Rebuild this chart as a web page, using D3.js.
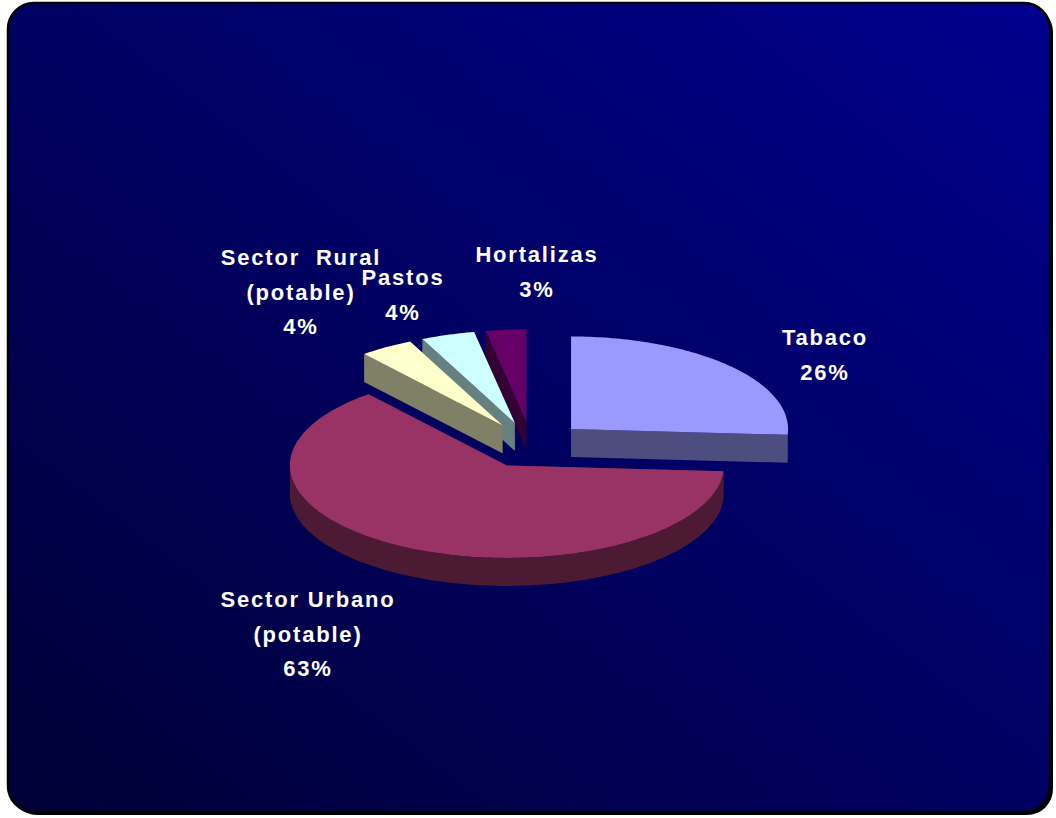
<!DOCTYPE html>
<html>
<head>
<meta charset="utf-8">
<script src="https://cdn.jsdelivr.net/npm/d3@7"></script>
<style>
  html, body { margin: 0; padding: 0; background: #ffffff; }
  svg { display: block; }
  text { font-family: "Liberation Sans", Arial, sans-serif; font-weight: bold; white-space: pre; }
</style>
</head>
<body>
<svg id="chart" width="1056" height="818"></svg>
<script>
// Water use by sector (share of total)
const categories = ["Tabaco", "Sector Urbano\n(potable)", "Sector  Rural\n(potable)", "Pastos", "Hortalizas"];
const values = [26, 63, 4, 4, 3];
const topColors = ["#9999ff", "#993366", "#ffffcc", "#ccffff", "#660066"];
// label anchor (centre of first line's baseline) for each slice
const labelAnchors = [[825, 345], [308, 607], [301, 265], [403, 285], [537, 262]];

const W = 1056, H = 818;
const svg = d3.select("#chart");
const defs = svg.append("defs");

// panel background
const grad = defs.append("linearGradient").attr("id", "bg")
  .attr("x1", "100%").attr("y1", "0%").attr("x2", "0%").attr("y2", "100%");
grad.append("stop").attr("offset", "0%").attr("stop-color", "#00008e");
grad.append("stop").attr("offset", "100%").attr("stop-color", "#000036");

svg.append("rect").attr("x", 11).attr("y", 6).attr("width", 1042).attr("height", 809)
  .attr("rx", 26).attr("fill", "#000");
svg.append("rect").attr("x", 8).attr("y", 3).attr("width", 1042).attr("height", 809)
  .attr("rx", 26).attr("fill", "url(#bg)").attr("stroke", "#000").attr("stroke-width", 2.5);

// 3D pie geometry
const cx = 531.5, cy = 444.8;   // un-exploded centre
const rx = 217, ry = 92.5;      // projected ellipse radii
const depth = 28;               // slab thickness
const explode = 0.25;           // explosion as fraction of radius

const pie = d3.pie().sort(null).startAngle(0).endAngle(2 * Math.PI);
const arcs = pie(values);
const total = d3.sum(values);
const pct = d3.format(".0%");

const shade = c => { const k = d3.rgb(c); return d3.rgb(k.r * 0.5, k.g * 0.5, k.b * 0.5).toString(); };

function proj(ox, oy, r, a) {
  return [ox + rx * r * Math.sin(a), oy - ry * r * Math.cos(a)];
}
function arcPoints(ox, oy, a0, a1, dy) {
  const n = Math.max(2, Math.ceil(Math.abs(a1 - a0) / (Math.PI / 180)));
  return d3.range(n + 1).map(i => {
    const p = proj(ox, oy, 1, a0 + (a1 - a0) * i / n);
    return [p[0], p[1] + (dy || 0)];
  });
}
const line = d3.line();

const slices = arcs.map((d, i) => {
  const mid = (d.startAngle + d.endAngle) / 2;
  const [ax, ay] = proj(cx, cy, explode, mid);
  return { d, i, ax, ay, color: topColors[i] };
});

// back slices first, front slice last
const drawOrder = [4, 3, 2, 0, 1];
const g = svg.append("g");

drawOrder.forEach(idx => {
  const s = slices[idx];
  const { ax, ay, d } = s;
  const side = shade(s.color);
  const sg = g.append("g");

  // cut faces
  [d.startAngle, d.endAngle].forEach(a => {
    const p = proj(ax, ay, 1, a);
    sg.append("path")
      .attr("d", line([[ax, ay], p, [p[0], p[1] + depth], [ax, ay + depth]]) + "Z")
      .attr("fill", side);
  });

  // outer rim (front half only)
  const r0 = Math.max(d.startAngle, Math.PI / 2), r1 = Math.min(d.endAngle, 3 * Math.PI / 2);
  if (r1 > r0) {
    const topPts = arcPoints(ax, ay, r0, r1, 0);
    const botPts = arcPoints(ax, ay, r1, r0, depth);
    sg.append("path").attr("d", line(topPts.concat(botPts)) + "Z").attr("fill", side);
  }

  // top face
  const pts = [[ax, ay]].concat(arcPoints(ax, ay, d.startAngle, d.endAngle, 0));
  sg.append("path").attr("d", line(pts) + "Z").attr("fill", s.color);
});

// labels
const lineGap = 34.5;
const lg = svg.append("g");
categories.forEach((c, i) => {
  const lines = c.split("\n").concat([pct(values[i] / total)]);
  const [lx, ly] = labelAnchors[i];
  const t = lg.append("text")
    .attr("text-anchor", "middle")
    .attr("fill", "#ffffff")
    .attr("font-size", 22)
    .attr("letter-spacing", 1.8);
  lines.forEach((l, j) => {
    t.append("tspan").attr("x", lx).attr("y", ly + j * lineGap).text(l);
  });
});
</script>
</body>
</html>
